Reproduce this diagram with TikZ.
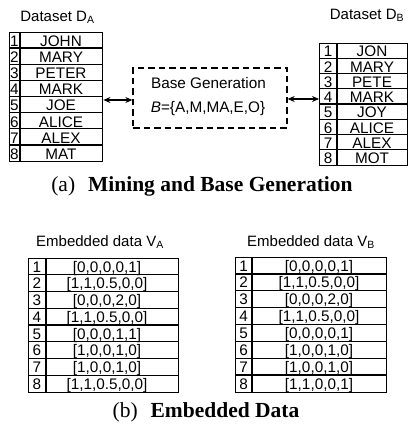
\documentclass[tikz,border=0pt]{standalone}
\usepackage{fontspec}
\setmainfont{Liberation Serif}
\setsansfont{Liberation Sans}
\usetikzlibrary{arrows.meta,calc}

\begin{document}
\begin{tikzpicture}[x=1pt,y=-1pt,
  rule/.style={line width=1.4pt},
  frame/.style={draw, rule, inner sep=0pt, anchor=north west},
  cell/.style={font=\sffamily\fontsize{15.3}{15.3}\selectfont, inner sep=0pt,
    text height=10.9pt, text depth=0pt},
  heading/.style={font=\sffamily\fontsize{15}{15}\selectfont, inner sep=0pt},
  caption/.style={font=\fontsize{21.5}{21.5}\selectfont, inner sep=0pt},
  dashbox/.style={draw, line width=1.3pt, dash pattern=on 6.5pt off 4pt,
    minimum width=154pt, minimum height=60pt, inner sep=0pt},
  link/.style={line width=1.1pt, {Stealth[length=7pt,width=6pt]}-{Stealth[length=7pt,width=6pt]}}
]
\useasboundingbox (0,0) rectangle (408,430);

% ---------- Dataset D_A ----------
\node[heading] (tA-title) at (57.5,17) {Dataset D\textsubscript{A}};
\node[frame, minimum width=93pt, minimum height=129pt] (tA) at (9,32) {};
\draw[rule] (20,32) -- (20,161);
\foreach \t [count=\i] in {JOHN,MARY,PETER,MARK,JOE,ALICE,ALEX,MAT}{
  \pgfmathsetmacro\yt{32+(\i-1)*16.125}
  \pgfmathsetmacro\ym{\yt+9}
  \ifnum\i>1 \draw[rule] (9,\yt) -- (102,\yt); \fi
  \node[cell] (A-n\i) at (14.5,\ym) {\i};
  \node[cell] (A-v\i) at (61,\ym) {\t};
}

% ---------- Dataset D_B ----------
\node[heading] (tB-title) at (367,15) {Dataset D\textsubscript{B}};
\node[frame, minimum width=88pt, minimum height=122pt] (tB) at (319,43) {};
\draw[rule] (337,43) -- (337,165);
\foreach \t [count=\i] in {JON,MARY,PETE,MARK,JOY,ALICE,ALEX,MOT}{
  \pgfmathsetmacro\yt{43+(\i-1)*15.25}
  \pgfmathsetmacro\ym{\yt+8.4}
  \ifnum\i>1 \draw[rule] (319,\yt) -- (407,\yt); \fi
  \node[cell] (B-n\i) at (328,\ym) {\i};
  \node[cell] (B-v\i) at (372,\ym) {\t};
}

% ---------- Base generation ----------
\node[dashbox] (gen) at (210,98) {};
\node[cell] (gen-l1) at (208.5,83) {Base Generation};
\node[cell] (gen-l2) at (208,107) {\textit{B}=\{A,M,MA,E,O\}};

\coordinate (genL) at ($(gen.west)+(0,2)$);
\coordinate (genR) at ($(gen.east)+(0,1)$);
\draw[link] (genL -| tA.east) -- (genL);
\draw[link] (genR) -- (genR -| tB.west);

\node[caption] (cap-a) at (202,186) {(a)\hspace{0.6em}\textbf{Mining and Base Generation}};

% ---------- Embedded data V_A ----------
\node[heading] (vA-title) at (100,242) {Embedded data V\textsubscript{A}};
\node[frame, minimum width=150pt, minimum height=134pt] (vA) at (28,258) {};
\draw[rule] (46,258) -- (46,392);
\foreach \t [count=\i] in {{[0,0,0,0,1]},{[1,1,0.5,0,0]},{[0,0,0,2,0]},{[1,1,0.5,0,0]},
    {[0,0,0,1,1]},{[1,0,0,1,0]},{[1,0,0,1,0]},{[1,1,0.5,0,0]}}{
  \pgfmathsetmacro\yt{258+(\i-1)*16.75}
  \pgfmathsetmacro\ym{\yt+8.6}
  \ifnum\i>1 \draw[rule] (28,\yt) -- (178,\yt); \fi
  \node[cell] (VA-n\i) at (37,\ym) {\i};
  \node[cell] (VA-v\i) at (107,\ym) {\t};
}

% ---------- Embedded data V_B ----------
\node[heading] (vB-title) at (311,242) {Embedded data V\textsubscript{B}};
\node[frame, minimum width=151pt, minimum height=135pt] (vB) at (235,257) {};
\draw[rule] (252,257) -- (252,392);
\foreach \t [count=\i] in {{[0,0,0,0,1]},{[1,1,0.5,0,0]},{[0,0,0,2,0]},{[1,1,0.5,0,0]},
    {[0,0,0,0,1]},{[1,0,0,1,0]},{[1,0,0,1,0]},{[1,1,0,0,1]}}{
  \pgfmathsetmacro\yt{257+(\i-1)*16.875}
  \pgfmathsetmacro\ym{\yt+8.6}
  \ifnum\i>1 \draw[rule] (235,\yt) -- (386,\yt); \fi
  \node[cell] (VB-n\i) at (243.5,\ym) {\i};
  \node[cell] (VB-v\i) at (319,\ym) {\t};
}

\node[caption] (cap-b) at (206,412) {(b)\hspace{0.6em}\textbf{Embedded Data}};
\end{tikzpicture}
\end{document}
